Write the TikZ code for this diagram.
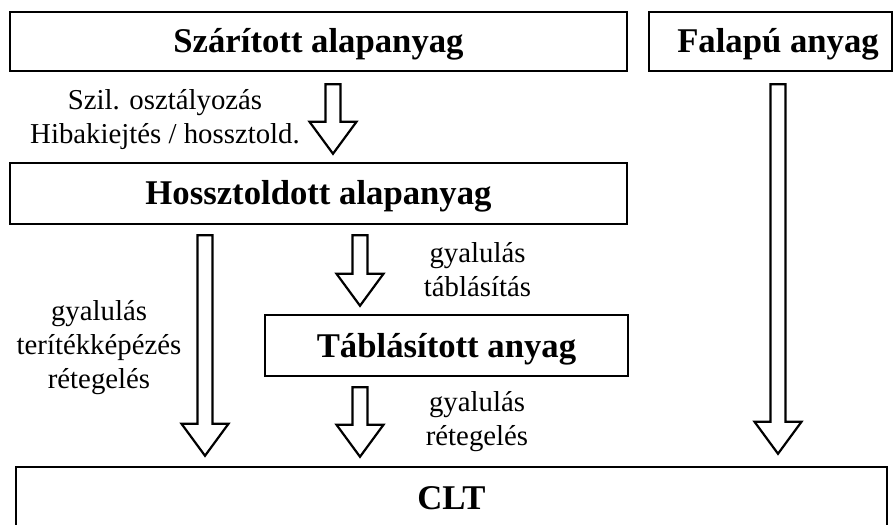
\documentclass[tikz,border=0pt]{standalone}
\usepackage{fontspec}
\setmainfont{Liberation Serif}
\usetikzlibrary{calc}
\newcommand\blockarrow[2]{%
  \draw[barrow] let \p1=(#1), \p2=(#2) in
    (\x1-7.5bp,\y1) -- (\x1+7.5bp,\y1) -- (\x1+7.5bp,\y2+32bp) -- (\x1+23.5bp,\y2+32bp)
    -- (\x2,\y2) -- (\x1-23.5bp,\y2+32bp) -- (\x1-7.5bp,\y2+32bp) -- cycle;}
\begin{document}
\begin{tikzpicture}[x=1bp,y=-1bp,
  box/.style={draw, line width=2.5bp, inner sep=0pt,
    font=\bfseries\fontsize{34.7bp}{40bp}\selectfont, text height=23bp, text depth=0pt},
  lab/.style={align=center, font=\fontsize{28.8bp}{34bp}\selectfont, inner sep=0pt, anchor=base},
  barrow/.style={draw, line width=2.2bp, fill=white, line join=miter}]
\useasboundingbox (0,0) rectangle (894,525);
\clip (0,0) rectangle (894,525);
\node[box, minimum width=617bp, minimum height=59bp] (b1) at (318.5,41.5) {Szárított alapanyag};
\node[box, minimum width=243bp, minimum height=59bp] (b0) at (770.5,41.5) {\hspace*{15bp}Falapú anyag};
\node[box, minimum width=617bp, minimum height=61bp] (b2) at (318.5,193.5) {Hossztoldott alapanyag};
\node[box, minimum width=363bp, minimum height=61bp] (b3) at (446.5,345.5) {Táblásított anyag};
\node[box, minimum width=871bp, minimum height=61bp] (b4) at (451.5,497.5) {CLT};
% arrow end points
\path (b1.south) ++(14.5,12) coordinate (a1s);
\path (b2.north) ++(14.5,-8) coordinate (a1e);
\path (b2.south) ++(-113.5,10) coordinate (a2s);
\path (b4.north) ++(-246.5,-10) coordinate (a2e);
\path (b2.south) ++(41.5,10) coordinate (a3s);
\path (b3.north) ++(-86.5,-8) coordinate (a3e);
\path (b3.south) ++(-86.5,10) coordinate (a4s);
\path (b4.north) ++(-91.5,-9) coordinate (a4e);
\path (b0.south) ++(7.5,12) coordinate (a5s);
\path (b4.north) ++(326.5,-12) coordinate (a5e);
\blockarrow{a1s}{a1e}
\blockarrow{a2s}{a2e}
\blockarrow{a3s}{a3e}
\blockarrow{a4s}{a4e}
\blockarrow{a5s}{a5e}
\node[lab] (l1) at (165,144) {Szil. osztályozás\\Hibakiejtés / hossztold.};
\node[lab] (l2) at (99,388) {gyalulás\\terítékképézés\\rétegelés};
\node[lab] (l3) at (477.5,297) {gyalulás\\táblásítás};
\node[lab] (l4) at (477,445) {gyalulás\\rétegelés};
\end{tikzpicture}
\end{document}
